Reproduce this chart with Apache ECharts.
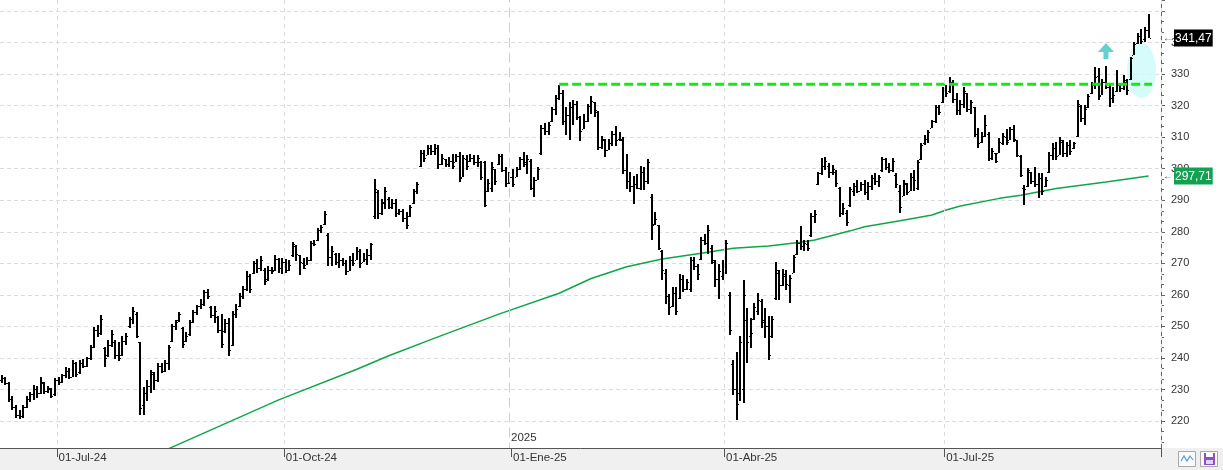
<!DOCTYPE html>
<html>
<head>
<meta charset="utf-8">
<script src="https://cdn.jsdelivr.net/npm/echarts@6.0.0/dist/echarts.min.js"></script>
<style>
  body { margin: 0; padding: 0; background: #fff; }
  #chart { width: 1223px; height: 470px; }
</style>
</head>
<body>
<div id="chart"></div>
<script>
// daily bars, one per trading session (index 0 = first bar on the left)
const opens = [
  233, 233.5, 232, 227, 224.5, 222, 221.5, 224.5, 227, 228.5,
  230, 229, 232, 229.5, 230, 228.5, 233, 232.5, 234.5, 236,
  234, 238.5, 235.5, 238.5, 237.5, 240, 243.5, 249, 248, 243,
  241, 244, 245, 241, 241, 245.5, 250, 252.5, 254, 245,
  225, 229, 231, 235, 233, 237.5, 236, 238.5, 245.5, 250,
  252, 249.5, 245.5, 247.5, 251.5, 254.5, 256.5, 257, 261, 256,
  253.5, 253, 249, 248.5, 251, 244, 254, 256.5, 259.5, 262,
  266, 267, 270, 268.5, 268, 265, 268, 268, 271.5, 268.5,
  270.5, 268, 272.5, 275.5, 272.5, 270, 269.5, 271, 276.5, 277.5,
  280.5, 282.5, 279, 272, 273, 270.5, 271, 270, 267.5, 271,
  271, 274, 270.5, 271.5, 272.5, 285, 292.5, 286, 289, 290.5,
  288, 289, 286, 286.5, 284.5, 285, 289, 293, 301, 305,
  304.5, 306.5, 305.5, 306.5, 301.5, 303, 301.5, 302.5, 302, 304,
  297.5, 303, 302.5, 303.5, 302, 302, 302, 293, 294, 300,
  301.5, 304, 299.5, 295.5, 297.5, 297.5, 300, 303, 302, 302.5,
  294, 296.5, 305, 313, 312, 315, 319, 322.5, 324, 315,
  317, 319.5, 320.5, 316.5, 312.5, 315, 320, 321, 318, 307,
  309, 306, 308, 311, 309.5, 309, 299.5, 296, 294.5, 295,
  294, 299, 296, 291, 282.5, 282, 274, 267, 259.5, 256.5,
  260.5, 259, 265, 262, 262, 271, 269, 271.5, 277.5, 276.5,
  275, 270.5, 265, 266, 269.5, 260, 238, 230, 229, 230,
  252, 247, 252.5, 255, 258, 251.5, 250, 247, 259, 267,
  263, 266, 263, 267, 273, 276.5, 275.5, 276, 279, 285,
  295, 298.5, 301, 301, 299, 299, 294, 286, 286, 288.5,
  293, 294.5, 293, 295, 292.5, 294.5, 297, 296, 299.5, 303,
  300.5, 299.5, 298, 293, 291.5, 295, 293, 297.5, 294, 303,
  308, 309.5, 313, 315, 319.5, 321, 325, 324.5, 327.5, 322,
  318.5, 320.5, 324, 319, 319.5, 311, 308.5, 310.5, 311, 303.5,
  305, 305, 308, 310, 309, 312.5, 309, 304, 294, 294.5,
  299, 296, 295, 297, 294.5, 299, 304.5, 306.5, 304.5, 308.5,
  305, 307.5, 306.5, 310.5, 320, 316, 319.5, 324, 326.5, 329.5,
  323.5, 327.5, 326, 322.5, 324.5, 326.5, 325.5, 327.5, 328.5, 336,
  340, 342, 341, 344
];
const highs = [
  234.5, 234, 232.5, 228, 225, 223.5, 225, 228, 229.3, 231.4,
  231, 233.8, 232.5, 231, 230.5, 233.5, 233.8, 235, 237.2, 236.7,
  239.3, 238.8, 239.3, 239.8, 240.4, 244, 249.9, 250.5, 253.6, 243.6,
  245.7, 248.8, 245.7, 245.2, 246.8, 247.8, 253.1, 256.2, 254.6, 245.2,
  230.9, 233, 236.2, 235.5, 238.3, 238.3, 239.3, 244, 250.9, 252,
  254.6, 249.9, 248.3, 252, 255.2, 256.8, 258.6, 261.7, 262, 256.4,
  256.6, 253.3, 253.8, 252.2, 252.7, 254.9, 257, 260.7, 262.8, 267.5,
  266.5, 270.7, 271.4, 272.3, 268.6, 269.3, 268.9, 272.8, 271.8, 271.8,
  271.4, 271.2, 276.7, 275.7, 272.8, 271.8, 272.1, 277, 277.4, 281.3,
  282.3, 286.6, 279.7, 275.5, 273.3, 273.3, 271.8, 271.2, 272.3, 273.3,
  275.1, 274.4, 273.3, 274.4, 276.5, 296.8, 293.1, 290.5, 294.2, 291,
  290.5, 290.5, 287.3, 287.3, 286.3, 288.4, 293.7, 295.8, 305.8, 305.8,
  307.4, 307.4, 307.7, 307.4, 304.8, 303.2, 303.7, 304.8, 304.8, 305.3,
  304.2, 304.2, 304.8, 304.2, 304.2, 302.6, 302.6, 296.8, 302.1, 300,
  304.8, 304.8, 300.5, 298.9, 300, 300.5, 303.7, 305.3, 304.2, 303.2,
  297.4, 300.5, 313.8, 314.4, 314.9, 319.6, 323.3, 326.5, 324.9, 319.6,
  321.2, 321.8, 321.6, 316.8, 317.4, 320.5, 323.2, 321.1, 318.4, 310.5,
  309.5, 309.5, 312.1, 313.7, 311.6, 310, 304.7, 298.9, 297.8, 298.4,
  301, 300.5, 303.1, 292, 286.2, 282, 274.1, 268.3, 260.4, 262.5,
  262.5, 266.7, 266.2, 265.1, 272, 272, 269.9, 278.3, 279.4, 282,
  275.7, 271, 269.9, 271, 277.3, 260.9, 239.3, 242, 247.1, 264.8,
  255.8, 252.7, 257.4, 260.6, 258.8, 255.8, 253.2, 253.2, 270.3, 268,
  268.2, 267.8, 266.4, 272.7, 277.5, 281.7, 277.5, 277.5, 285.9, 287,
  299.1, 303.3, 303.8, 301.7, 301.2, 299.6, 294.3, 289.1, 287, 294.3,
  295.4, 296.5, 295.9, 296.5, 295.9, 298, 298.6, 298, 303.8, 303.3,
  301.7, 303.3, 298.6, 294.9, 296.5, 295.4, 298.6, 299.6, 302.8, 308.1,
  310.7, 312.3, 315.4, 320.2, 320.2, 326, 326.5, 329.2, 328.1, 323.9,
  321.8, 326, 324, 321.8, 319.7, 312.8, 311.8, 317, 311.8, 306.5,
  305, 309.6, 311.2, 312.7, 313.3, 313.8, 309, 304.3, 294.8, 300.1,
  299, 300.6, 298.5, 298.5, 297.4, 305.3, 308, 308.5, 310.1, 309,
  308.5, 309, 308.5, 321.7, 320.1, 320.1, 323.8, 327.5, 332.3, 331.8,
  328.6, 332.5, 327, 326, 331.2, 327, 329.6, 328.6, 335.5, 340.2,
  342.9, 344.4, 345, 349.2
];
const lows = [
  232, 231.5, 226, 223.5, 221, 220.5, 221, 224, 226, 226.6,
  227.2, 228.5, 228.6, 228.8, 227.2, 228, 231.4, 232, 233.5, 233.2,
  233.8, 234, 235, 236.7, 237.2, 239.5, 243, 246.7, 247.3, 237.2,
  240.4, 243.6, 239.8, 239.1, 240.5, 244.1, 249.4, 250.9, 246.2, 222,
  222, 226.2, 228.8, 229.8, 232.5, 235.1, 235.5, 236.2, 245.2, 248.8,
  251.5, 243, 245, 247, 251, 253.6, 255.4, 256.5, 258.6, 252.7,
  251.2, 248, 243.2, 248, 240.6, 243.8, 252.7, 256.2, 258.6, 261.2,
  260.7, 266.5, 267, 267.5, 263, 264.5, 266.5, 267.5, 267, 266.5,
  266.8, 267.5, 272.1, 270.7, 266.2, 268.1, 269.5, 270.7, 275.5, 277,
  279.7, 282.3, 269.1, 269.1, 269.6, 268.6, 269.1, 266.2, 267.5, 269.1,
  271, 268.6, 270.5, 269.6, 271.2, 284.2, 284.2, 285.2, 287.3, 287.3,
  287.3, 284.7, 285.2, 283.1, 281, 284.7, 288.9, 292.1, 300.5, 302.1,
  304.2, 304.2, 304.2, 300, 301.1, 300.5, 300.5, 300, 302, 295.8,
  297.4, 299.5, 302.1, 301.1, 300.5, 296.3, 287.8, 292.6, 292.6, 294.7,
  301.1, 298.9, 294.2, 295.2, 294.2, 297.4, 299.5, 300.5, 298.4, 293.1,
  291, 296.3, 304.5, 310.7, 310.7, 314.9, 317, 321.8, 313.8, 310.7,
  309.1, 313.8, 315.3, 308.9, 312.5, 314.7, 317.4, 316.3, 305.8, 306.3,
  303.6, 305.8, 307.3, 307.3, 308.9, 298.4, 293.6, 292.6, 288.9, 293.6,
  293.1, 293.1, 295.2, 277.3, 282, 274.1, 264.6, 257.2, 253.5, 256.2,
  253.5, 258.8, 260.9, 261.5, 260.9, 267.8, 264.6, 271, 275.7, 273.1,
  269.9, 262.5, 258.8, 264.6, 266.7, 247.2, 228.2, 220.3, 226.3, 225.8,
  238.4, 243.2, 252, 253.7, 249.5, 246.3, 239.5, 246.3, 258.5, 258.5,
  262.7, 261.6, 257.4, 266.9, 272.7, 274.3, 273.8, 273.8, 278.5, 282.7,
  294.9, 298, 299.6, 297, 298, 294.3, 284.8, 285.4, 281.7, 288,
  291.2, 292.2, 292.8, 291.8, 290.1, 293.3, 294.9, 294.3, 299.1, 299.6,
  298.6, 299.1, 293.8, 285.9, 291.2, 291.7, 292.8, 292.8, 293.3, 302.8,
  307.5, 308.1, 312.8, 314.4, 317, 320.7, 322.8, 323.9, 320.7, 317,
  317, 319.1, 318.1, 317.5, 310.2, 306.5, 308.1, 310.2, 302.3, 302.8,
  301.7, 304.9, 307.5, 307.5, 309, 308.5, 303.8, 297.4, 288.4, 294.3,
  295.3, 294.3, 290.6, 291.6, 294.3, 298.5, 302.7, 302.7, 304.3, 303.8,
  303.8, 304.3, 306.4, 310.1, 314.8, 313.8, 319.1, 323.8, 325.4, 321.7,
  323.5, 325.4, 319.6, 320.7, 324.4, 324.4, 324.9, 323.3, 328.1, 336,
  339.7, 339.7, 340.2, 341.3
];
const closes = [
  233.5, 232, 227, 224.5, 222, 221.5, 224.5, 227, 228.5, 230,
  229, 232.5, 229.5, 230.5, 228, 233, 232.5, 234.5, 236, 234,
  238.5, 235, 238.5, 237.5, 240, 243.5, 249, 248, 252.5, 240,
  244, 247.5, 241, 240, 245.5, 247, 252.5, 255, 247, 224,
  229, 231, 235.5, 233, 237.5, 236, 238.5, 243.5, 250, 251.5,
  254, 244.5, 247, 251.5, 254.5, 256.5, 257, 261, 259.5, 253.5,
  255, 249, 244.5, 251, 242.5, 254, 255.5, 259.5, 262, 266,
  262, 270, 268.5, 271, 264.5, 268, 267.5, 271.5, 268.5, 270.5,
  268, 269.5, 276, 273, 270.5, 268.5, 271, 276.5, 276, 280.5,
  281.5, 285.5, 272, 274, 270.5, 271, 270, 267.5, 271, 270,
  274, 270, 271.5, 272.5, 276, 293.5, 286, 289.5, 293, 288,
  289, 286, 286.5, 284.5, 282, 288, 293, 295, 305, 303.5,
  306.5, 305.5, 306.5, 301.5, 303.5, 301.5, 302.5, 301, 304, 297,
  303.5, 301, 303.5, 302, 303.5, 297.5, 288.5, 295.5, 300.5, 296,
  304, 299.5, 295.5, 297.5, 295, 300, 303, 301.5, 303, 294,
  296.5, 300, 313, 312, 314, 319, 322.5, 324, 315, 317,
  319.5, 320.5, 316.5, 312, 315, 320, 321.5, 318.5, 307, 309.5,
  306, 308, 311, 309, 309.5, 299.5, 296, 294.5, 295, 294,
  299, 296, 302, 282, 284, 275, 268, 259.5, 256, 260.5,
  255, 265, 262, 264, 271, 269, 266.5, 277.5, 276.5, 280.5,
  271, 265, 267.5, 269.5, 276.5, 249, 230, 225.5, 245, 260,
  245, 248, 256, 258.5, 252, 250, 241, 252.5, 268, 263,
  266.5, 263.5, 265.5, 272, 276.5, 275.5, 276.5, 275, 285, 285.5,
  298.5, 301, 302.5, 299, 300, 295.5, 286, 287.5, 283, 293.5,
  294.5, 293, 295, 292.5, 294.5, 297, 296, 297.5, 303, 300.5,
  299.5, 302.5, 295, 288, 295.5, 292.5, 297.5, 296.5, 302, 307.5,
  309.5, 311.5, 315, 319.5, 318, 325, 324, 327.5, 322, 318.5,
  320.5, 324.5, 319, 321, 311, 308, 310.5, 314, 303.5, 305.5,
  302.5, 308.5, 310.5, 308.5, 312.5, 309.5, 304.5, 298, 293.5, 299.5,
  296, 295, 297, 293, 296.5, 304.5, 306.5, 304, 309, 305,
  307.5, 305.5, 308, 320.5, 316, 319, 323, 326.5, 329, 323,
  327.5, 326, 322.5, 323.5, 326.5, 325.5, 328, 325, 335, 339.5,
  342, 340.5, 344, 341.47
];

// 200-session moving average, read at a few bars
const maIndex = [40, 48, 78, 100, 109, 121, 140, 157, 166, 176, 186, 197, 206, 216,
  225, 229, 239, 243, 253, 257, 262, 266, 270, 281, 287, 297, 311, 323];
const maValue = [207.8, 211.7, 226.7, 236.4, 240.7, 245.9, 253.9, 260.5, 265.2, 268.9, 271.4, 273.2, 274.8, 275.5,
  276.7, 277.4, 280.3, 281.6, 283.5, 284.3, 285.3, 286.9, 288.2, 290.6, 291.6, 293.7, 295.8, 297.71];

// x axis: quarter marks
const tickIndex = [16, 80, 144, 204, 266];
const tickText = ['01-Jul-24', '01-Oct-24', '01-Ene-25', '01-Abr-25', '01-Jul-25'];
const gridIndex = [16, 80, 204, 266];
const yearIndex = 143;
const yearText = '2025';

// annotations
const resistance = 326.8;
const resistanceFrom = 157;
const resistanceTo = 324;
const lastClose = 341.47;
const maLast = 297.71;
const ellipsePoint = [321, 331.1];
const arrowPoint = [311, 337.3];

const slotCount = 327;
const categories = [];
for (let i = 0; i < slotCount; i++) categories.push(String(i));

const bars = opens.map((o, i) => [i, o, highs[i], lows[i], closes[i]]);
const maData = maIndex.map((i, k) => [i, maValue[k]]);

function priceText(v) {
  return v.toFixed(2).replace('.', ',');
}

function renderBar(params, api) {
  const i = api.value(0);
  const top = api.coord([i, api.value(2)]);
  const bottom = api.coord([i, api.value(3)]);
  const openPt = api.coord([i, api.value(1)]);
  const closePt = api.coord([i, api.value(4)]);
  const x = Math.round(top[0]);
  const y1 = Math.round(top[1]);
  const y2 = Math.max(y1 + 1, Math.round(bottom[1]));
  return {
    type: 'group',
    children: [
      { type: 'rect', shape: { x: x - 1, y: y1, width: 2, height: y2 - y1 }, style: { fill: '#000' } },
      { type: 'rect', shape: { x: x - 2, y: Math.round(openPt[1]), width: 1, height: 1 }, style: { fill: '#000' } },
      { type: 'rect', shape: { x: x + 1, y: Math.round(closePt[1]), width: 1, height: 1 }, style: { fill: '#000' } }
    ]
  };
}

function tagLabel(value, bg) {
  return {
    show: true,
    position: 'end',
    distance: 2,
    formatter: '{a|←}{b|' + priceText(value) + '}',
    rich: {
      a: { color: '#555', fontSize: 10, padding: [0, 1, 0, 0] },
      b: { color: '#fff', backgroundColor: bg, fontSize: 12, padding: [3, 1, 2, 1] }
    }
  };
}

const chart = echarts.init(document.getElementById('chart'));
chart.setOption({
  animation: false,
  backgroundColor: '#fff',
  textStyle: { fontFamily: '"Liberation Sans", Arial, sans-serif' },
  grid: { left: 0, right: 62, top: 0, bottom: 17.45 },
  xAxis: {
    type: 'category',
    data: categories,
    boundaryGap: true,
    offset: -4.5,
    z: 60,
    axisLine: { lineStyle: { color: '#555', width: 1 } },
    axisTick: {
      show: true, length: 9,
      interval: (i) => tickIndex.includes(i),
      lineStyle: { color: '#555' }
    },
    axisLabel: {
      interval: (i) => tickIndex.includes(i),
      formatter: (v, i) => tickText[tickIndex.indexOf(i)] || '',
      align: 'left', margin: 4, fontSize: 11.5, color: '#333'
    },
    splitLine: {
      show: true,
      interval: (i) => gridIndex.includes(i),
      lineStyle: { color: '#dcdcdc', type: [4, 4] }
    }
  },
  yAxis: {
    type: 'value',
    position: 'right',
    min: 210, max: 353.5, interval: 10,
    axisLine: { show: true, lineStyle: { color: '#666' } },
    axisTick: { show: true, length: 4, lineStyle: { color: '#666' } },
    minorTick: { show: true, splitNumber: 3, length: 3, lineStyle: { color: '#666' } },
    axisLabel: {
      margin: 10, fontSize: 11, color: '#333',
      showMinLabel: false, showMaxLabel: false,
      formatter: (v) => (v > 345 ? '' : String(v))
    },
    splitLine: {
      show: true, showMinLine: false, showMaxLine: false,
      lineStyle: { color: '#dcdcdc', type: [4, 3] }
    }
  },
  graphic: [
    { type: 'rect', z: 50, silent: true, shape: { x: 0, y: 448, width: 1223, height: 22 }, style: { fill: '#f0f0f0' } },
    { type: 'rect', z: 55, silent: true, shape: { x: 1178.5, y: 451.5, width: 17, height: 15 }, style: { fill: '#fafafa', stroke: '#a8a8a8', lineWidth: 1 } },
    { type: 'polyline', z: 56, silent: true, shape: { points: [[1181, 461], [1184, 456], [1187, 461], [1190, 456], [1193, 460]] }, style: { stroke: '#5b9bd5', fill: null, lineWidth: 1.2 } },
    { type: 'rect', z: 55, silent: true, shape: { x: 1200.5, y: 451.5, width: 17, height: 15 }, style: { fill: '#fafafa', stroke: '#a8a8a8', lineWidth: 1 } },
    { type: 'rect', z: 56, silent: true, shape: { x: 1204, y: 453, width: 11, height: 12 }, style: { fill: '#8b4fc6' } },
    { type: 'rect', z: 57, silent: true, shape: { x: 1206, y: 453, width: 7, height: 4 }, style: { fill: '#fff' } },
    { type: 'rect', z: 57, silent: true, shape: { x: 1206, y: 460, width: 7, height: 4 }, style: { fill: '#e3d3f5' } }
  ],
  series: [
    {
      name: 'zona',
      type: 'scatter',
      z: 1,
      silent: true,
      symbol: 'circle',
      symbolSize: [29, 55],
      itemStyle: { color: '#cbfafa' },
      data: [ellipsePoint]
    },
    {
      name: 'MM200',
      type: 'line',
      z: 2,
      showSymbol: false,
      clip: true,
      lineStyle: { color: '#0fa64a', width: 1.5 },
      data: maData,
      markLine: {
        silent: true,
        symbol: ['none', 'none'],
        lineStyle: { color: 'rgba(0,0,0,0)', width: 0 },
        label: tagLabel(maLast, '#12a150'),
        data: [{ yAxis: maLast }]
      }
    },
    {
      name: 'OHLC',
      type: 'custom',
      z: 3,
      clip: true,
      renderItem: renderBar,
      encode: { x: 0, y: [1, 2, 3, 4] },
      data: bars,
      markLine: {
        silent: true,
        symbol: ['none', 'none'],
        lineStyle: { color: 'rgba(0,0,0,0)', width: 0 },
        data: [
          {
            yAxis: lastClose,
            label: tagLabel(lastClose, '#000')
          },
          {
            xAxis: yearIndex,
            label: { show: false },
            lineStyle: { color: '#cfcfcf', type: [10, 5], width: 1 }
          }
        ]
      },
      markPoint: {
        silent: true,
        symbol: 'circle',
        symbolSize: 1,
        itemStyle: { color: 'rgba(0,0,0,0)' },
        label: { show: true, position: 'right', distance: 1, color: '#333', fontSize: 11.5, formatter: yearText },
        data: [{ coord: [yearIndex, 214.6] }]
      }
    },
    {
      name: 'resistencia',
      type: 'line',
      z: 4,
      silent: true,
      showSymbol: false,
      lineStyle: { color: '#19e619', width: 3, type: [9, 4] },
      data: [[resistanceFrom, resistance], [resistanceTo, resistance]]
    },
    {
      name: 'flecha',
      type: 'scatter',
      z: 4,
      silent: true,
      symbol: 'path://M8 0 L16 9 L10.5 9 L10.5 16 L5.5 16 L5.5 9 L0 9 Z',
      symbolSize: [16, 16],
      itemStyle: { color: '#3dc6c6' },
      data: [arrowPoint]
    }
  ]
});
</script>
</body>
</html>
